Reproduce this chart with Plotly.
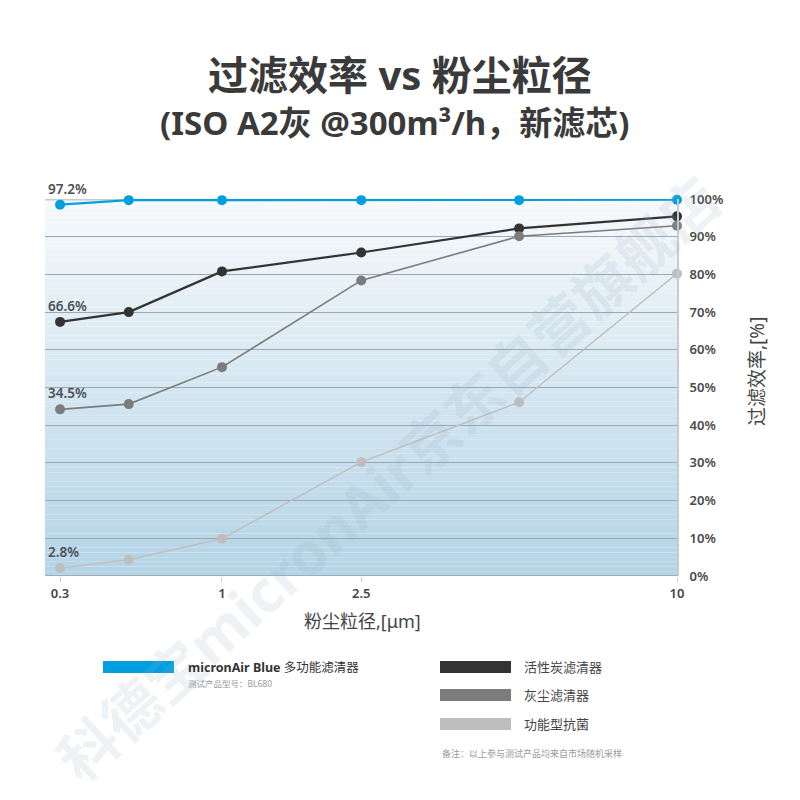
import numpy as np
import plotly.graph_objects as go

# ---------------- data ----------------
particle_size = [0.3, 0.5, 1, 2.5, 5, 10]
micronair_blue = [98.5, 99.7, 99.7, 99.7, 99.7, 99.8]
carbon_filter = [67.4, 70.0, 80.8, 85.8, 92.2, 95.4]
dust_filter = [44.2, 45.6, 55.4, 78.4, 90.1, 92.9]
antibacterial = [2.1, 4.3, 9.9, 30.2, 46.1, 80.2]
series_names = ["micronAir Blue 多功能滤清器", "活性炭滤清器", "灰尘滤清器", "功能型抗菌"]
start_labels = ["97.2%", "66.6%", "34.5%", "2.8%"]
x_tick_vals = [0.3, 1, 2.5, 10]
x_tick_text = ["0.3", "1", "2.5", "10"]
y_tick_vals = list(range(0, 101, 10))
y_tick_text = [f"{v}%" for v in y_tick_vals]

# ---------------- custom (piecewise-log) x scale ----------------
SCALE_ANCHORS = [0.3, 1, 2.5, 10]
SCALE_POS = [0.0, 1.0, 1.86, 3.81]


def xscale(v):
    return np.interp(np.log10(np.asarray(v, dtype=float)), np.log10(SCALE_ANCHORS), SCALE_POS)


X_RANGE = [-0.093, 3.81]

W, H = 800, 800
OFF = 8  # page body offset
ML, MT = 45 - OFF, 199 - OFF
PW, PH = 632, 377
MR, MB = W - ML - PW, H - MT - PH


def px(xp):
    return (xp - 45) / PW


def py(yp):
    return (576 - yp) / PH


FONT = "Noto Sans, Noto Sans CJK SC, sans-serif"
colors = ["#00a0e0", "#333333", "#7c7c7c", "#bebebe"]
widths = [2.2, 2.2, 1.6, 1.4]
series = [micronair_blue, carbon_filter, dust_filter, antibacterial]

fig = go.Figure()

# gradient background bands
n_bands = 80
top_c = np.array([247, 250, 252])
bot_c = np.array([180, 212, 231])
shapes = []
for i in range(n_bands):
    t0 = i / n_bands
    t1 = (i + 1) / n_bands
    c = bot_c + (top_c - bot_c) * (t0 + t1) / 2
    shapes.append(dict(type="rect", xref="paper", yref="y", x0=0, x1=1,
                       y0=100 * t0, y1=100 * t1, line=dict(width=0),
                       fillcolor=f"rgb({int(c[0])},{int(c[1])},{int(c[2])})", layer="below"))
shapes.append(dict(type="line", xref="paper", yref="y", x0=0, x1=1, y0=100, y1=100,
                   line=dict(color="#c6cbcf", width=3), layer="below"))
shapes.append(dict(type="line", xref="paper", yref="y", x0=0, x1=1, y0=0, y1=0,
                   line=dict(color="#a3adb5", width=2), layer="below"))

xs = xscale(particle_size)
for name, vals, col, w in zip(series_names, series, colors, widths):
    fig.add_trace(go.Scatter(
        x=xs, y=vals, mode="lines+markers", name=name,
        line=dict(color=col, width=w),
        marker=dict(color=col, size=10),
        cliponaxis=False, showlegend=False))

annotations = []
# watermark (drawn first, faint)
annotations.append(dict(x=px(388), y=py(478), xref="paper", yref="paper",
                        text="<b>科德宝micronAir京东自营旗舰店</b>", showarrow=False, textangle=-42,
                        xanchor="center", yanchor="middle",
                        font=dict(family=FONT, size=58, color="rgba(150,175,195,0.16)")))
# start value labels
for lab, vals in zip(start_labels, series):
    annotations.append(dict(x=0.002, xref="paper", y=vals[0], yref="y", text=lab,
                            showarrow=False, xanchor="left", yanchor="middle", yshift=16,
                            font=dict(family=FONT, size=13.5, color="#4a4f55", weight=600)))

# titles / axis titles (pixel positions -> paper)
pix_ann = [
    dict(x=400, y=74, text="<b>过滤效率 vs 粉尘粒径</b>",
         font=dict(family=FONT, size=40, color="#3a3a3a")),
    dict(x=395, y=123, text="<b>(ISO A2灰 @300m³/h，新滤芯)</b>",
         font=dict(family=FONT, size=33, color="#3a3a3a")),
    dict(x=362, y=621, text="粉尘粒径,[μm]",
         font=dict(family=FONT, size=18, color="#444444")),
    dict(x=757, y=372, text="过滤效率,[%]", textangle=-90,
         font=dict(family=FONT, size=19, color="#444444")),
]
for a in pix_ann:
    a.update(x=px(a["x"]), y=py(a["y"]), xref="paper", yref="paper",
             xanchor="center", yanchor="middle", showarrow=False)
    annotations.append(a)

# custom legend
legend_items = [
    (series_names[0], colors[0], 103, 174, 667, 186),
    (series_names[1], colors[1], 440, 511, 667, 522),
    (series_names[2], colors[2], 440, 511, 695, 522),
    (series_names[3], colors[3], 440, 511, 724, 522),
]
for name, col, x0, x1, yc, tx in legend_items:
    shapes.append(dict(type="rect", xref="paper", yref="paper",
                       x0=px(x0), x1=px(x1), y0=py(yc + 6), y1=py(yc - 6),
                       fillcolor=col, line=dict(width=0)))
    if name.startswith("micronAir"):
        txt = "<b>micronAir Blue</b> 多功能滤清器"
        col_t = "#333333"
        fs = 12.5
    else:
        txt = name
        col_t = "#444444"
        fs = 13
    annotations.append(dict(x=px(tx), y=py(yc), xref="paper", yref="paper", text=txt,
                            showarrow=False, xanchor="left", yanchor="middle",
                            font=dict(family=FONT, size=fs, color=col_t)))
annotations.append(dict(x=px(186), y=py(683), xref="paper", yref="paper", text="测试产品型号：BL680",
                        showarrow=False, xanchor="left", yanchor="middle",
                        font=dict(family=FONT, size=8.5, color="#9a9a9a")))
annotations.append(dict(x=px(440), y=py(753), xref="paper", yref="paper",
                        text="备注：以上参与测试产品均来自市场随机采样",
                        showarrow=False, xanchor="left", yanchor="middle",
                        font=dict(family=FONT, size=9, color="#9a9a9a")))

fig.update_layout(
    width=W, height=H,
    margin=dict(l=ML, r=MR, t=MT, b=MB, pad=0),
    paper_bgcolor="white", plot_bgcolor="rgba(0,0,0,0)",
    shapes=shapes, annotations=annotations,
    font=dict(family=FONT),
    xaxis=dict(range=X_RANGE, tickvals=list(xscale(x_tick_vals)), ticktext=x_tick_text,
               showgrid=False, zeroline=False, showline=False,
               ticks="outside", ticklen=5, tickcolor="#cccccc",
               tickfont=dict(family=FONT, size=13, color="#444444", weight=600)),
    yaxis=dict(range=[0, 100], side="right", tickvals=y_tick_vals, ticktext=y_tick_text,
               showgrid=True, gridcolor="#9aa8b3", gridwidth=1, zeroline=False,
               showline=True, linecolor="#c6cbcf", linewidth=2,
               ticks="outside", ticklen=8, tickcolor="rgba(0,0,0,0)",
               tickfont=dict(family=FONT, size=13, color="#4a4a4a", weight=600)),
)

fig.write_html("out.html")
